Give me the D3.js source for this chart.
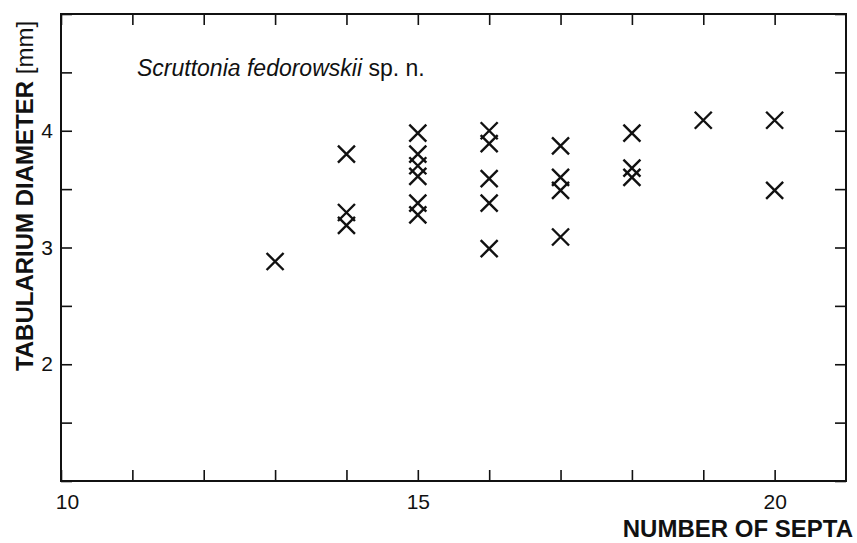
<!DOCTYPE html>
<html>
<head>
<meta charset="utf-8">
<script src="https://cdn.jsdelivr.net/npm/d3@7"></script>
<style>
  html, body { margin: 0; padding: 0; background: #fff; }
  svg { display: block; font-family: Arial, "Liberation Sans", sans-serif; }
</style>
</head>
<body>
<svg id="chart" width="857" height="543"></svg>
<script>
// ---- data ----
const septa = [13, 14, 14, 14, 15, 15, 15, 15, 15, 15, 16, 16, 16, 16, 16, 17, 17, 17, 17, 18, 18, 18, 19, 20, 20];
const diameter = [2.88, 3.8, 3.3, 3.19, 3.98, 3.8, 3.7, 3.61, 3.38, 3.28, 4.0, 3.89, 3.59, 3.38, 2.99, 3.87, 3.6, 3.49, 3.09, 3.98, 3.68, 3.6, 4.09, 4.09, 3.49];
const xTicks = [10, 11, 12, 13, 14, 15, 16, 17, 18, 19, 20];
const xTickLabels = [10, 15, 20];
const yTicks = [1, 1.5, 2, 2.5, 3, 3.5, 4, 4.5, 5];
const yTickLabels = [2, 3, 4];
const titleItalic = "Scruttonia fedorowskii";
const titleNormal = " sp. n.";
const xLabel = "NUMBER OF SEPTA";
const yLabelBold = "TABULARIUM DIAMETER";
const yLabelNormal = " [mm]";

// ---- layout ----
const L = 61, R = 846, T = 14, B = 481;
const svg = d3.select("#chart");
const x = d3.scaleLinear().domain([10, 21]).range([L, R]);
const y = d3.scaleLinear().domain([1, 5]).range([B, T]);
const tick = 11;

function style(g) {
  g.select(".domain").remove();
  g.selectAll(".tick line").attr("stroke", "#111").attr("stroke-width", 1.6);
  g.selectAll(".tick text").attr("fill", "#111").style("font-size", "21px");
}

// bottom axis
const gB = svg.append("g").attr("transform", `translate(0,${B})`)
  .call(d3.axisBottom(x).tickValues(xTicks).tickSize(-tick).tickPadding(13)
    .tickFormat(d => xTickLabels.includes(d) ? d : ""));
style(gB);
gB.selectAll(".tick text").filter(d => d === 10).attr("dx", 6);

// top axis
const gT = svg.append("g").attr("transform", `translate(0,${T})`)
  .call(d3.axisTop(x).tickValues(xTicks).tickSize(-tick).tickFormat(""));
style(gT);

// left axis
const gL = svg.append("g").attr("transform", `translate(${L},0)`)
  .call(d3.axisLeft(y).tickValues(yTicks).tickSize(-tick).tickPadding(8)
    .tickFormat(d => yTickLabels.includes(d) ? d : ""));
style(gL);

// right axis
const gR = svg.append("g").attr("transform", `translate(${R},0)`)
  .call(d3.axisRight(y).tickValues(yTicks).tickSize(-tick).tickFormat(""));
style(gR);

// frame
svg.append("rect").attr("x", L).attr("y", T).attr("width", R - L).attr("height", B - T)
  .attr("fill", "none").attr("stroke", "#111").attr("stroke-width", 2);

// markers
const s = 8.5;
const pts = septa.map((v, i) => ({ sx: v, dy: diameter[i] }));
const mk = svg.append("g").attr("stroke", "#111").attr("stroke-width", 2.4).attr("stroke-linecap", "butt");
mk.selectAll("path").data(pts).join("path")
  .attr("d", d => {
    const cx = x(d.sx), cy = y(d.dy);
    return `M${cx - s},${cy - s}L${cx + s},${cy + s}M${cx - s},${cy + s}L${cx + s},${cy - s}`;
  });

// title
const t = svg.append("text").attr("x", 137).attr("y", 76).style("font-size", "23px").attr("fill", "#111");
t.append("tspan").style("font-style", "italic").text(titleItalic);
t.append("tspan").text(titleNormal);

// x label
svg.append("text").attr("x", 853).attr("y", 537).attr("text-anchor", "end")
  .style("font-size", "24px").style("font-weight", "bold").attr("fill", "#111").text(xLabel);

// y label
const yl = svg.append("text").attr("transform", "translate(33,196) rotate(-90)")
  .attr("text-anchor", "middle").style("font-size", "24px").attr("fill", "#111");
yl.append("tspan").style("font-weight", "bold").text(yLabelBold);
yl.append("tspan").text(yLabelNormal);
</script>
</body>
</html>
